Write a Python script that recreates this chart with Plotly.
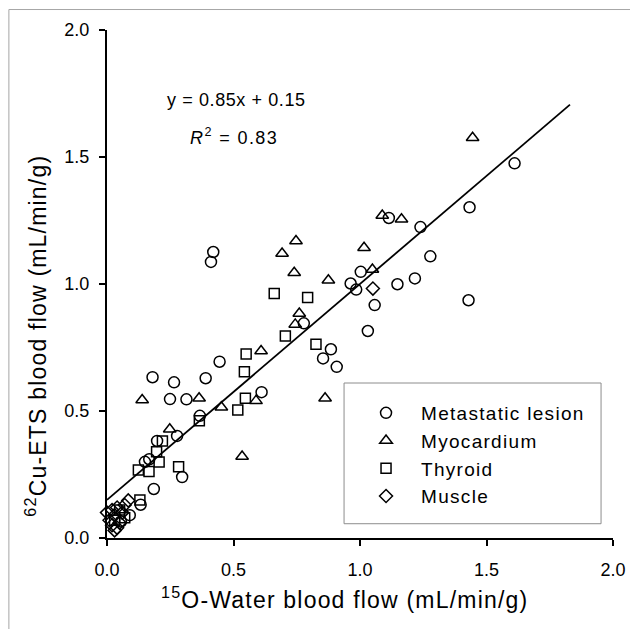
import plotly.graph_objects as go

# ---- data ----
lesion_x = [1.611, 1.433, 1.239, 1.278, 1.114, 1.003, 1.148, 1.217, 1.058, 1.429, 1.031, 0.963, 0.985,
            0.778, 0.885, 0.854, 0.908, 0.611, 0.420, 0.411, 0.180, 0.265, 0.390, 0.445, 0.249, 0.314,
            0.367, 0.277, 0.198, 0.167, 0.150, 0.297, 0.185, 0.133, 0.090, 0.055]
lesion_y = [1.475, 1.302, 1.224, 1.109, 1.260, 1.048, 0.999, 1.022, 0.917, 0.936, 0.815, 1.002, 0.978,
            0.845, 0.743, 0.707, 0.674, 0.574, 1.126, 1.087, 0.633, 0.613, 0.629, 0.694, 0.547, 0.546,
            0.481, 0.402, 0.382, 0.310, 0.300, 0.240, 0.193, 0.131, 0.090, 0.065]

myo_x = [1.445, 1.088, 1.164, 1.016, 1.049, 0.747, 0.692, 0.740, 0.875, 0.760, 0.744, 0.609, 0.862,
         0.139, 0.364, 0.589, 0.452, 0.248, 0.534]
myo_y = [1.576, 1.270, 1.255, 1.143, 1.057, 1.169, 1.120, 1.044, 1.015, 0.884, 0.841, 0.736, 0.550,
         0.543, 0.550, 0.540, 0.515, 0.428, 0.321]

thy_x = [0.661, 0.793, 0.705, 0.826, 0.550, 0.543, 0.547, 0.517, 0.365, 0.219, 0.196, 0.206, 0.283,
         0.124, 0.166, 0.130, 0.050, 0.070, 0.030]
thy_y = [0.963, 0.947, 0.795, 0.763, 0.724, 0.655, 0.550, 0.504, 0.462, 0.382, 0.340, 0.299, 0.281,
         0.268, 0.262, 0.150, 0.110, 0.080, 0.070]

mus_x = [1.051, 0.084, 0.000, 0.010, 0.020, 0.030, 0.030, 0.040, 0.050, 0.060, 0.070, 0.020, 0.040]
mus_y = [0.982, 0.148, 0.100, 0.070, 0.050, 0.030, 0.090, 0.120, 0.060, 0.100, 0.130, 0.110, 0.040]

fit_x = [0.0, 1.83]
fit_y = [0.15, 1.706]

x_ticks = [0.0, 0.5, 1.0, 1.5, 2.0]
y_ticks = [0.0, 0.5, 1.0, 1.5, 2.0]
tick_text = ["0.0", "0.5", "1.0", "1.5", "2.0"]

series_names = ["Metastatic lesion", "Myocardium", "Thyroid", "Muscle"]
x_title = "<sup>15</sup>O-Water blood flow (mL/min/g)"
y_title = "<sup>62</sup>Cu-ETS blood flow (mL/min/g)"
eq_text = "y = 0.85x + 0.15"
r2_text = "<i>R</i><sup>2</sup> = 0.83"

FONT = "Liberation Sans, Arial, sans-serif"


def spaced(txt, px):
    return '<span style="letter-spacing:%.1fpx">%s</span>' % (px, txt)


fig = go.Figure()

fig.add_trace(go.Scatter(x=fit_x, y=fit_y, mode="lines", line=dict(color="black", width=1.8),
                         showlegend=False, hoverinfo="skip"))

specs = [
    (lesion_x, lesion_y, "circle-open", 11),
    (myo_x, myo_y, "triangle-up-open", 11),
    (thy_x, thy_y, "square-open", 10),
    (mus_x, mus_y, "diamond-open", 10),
]
for name, (xs, ys, sym, sz) in zip(series_names, specs):
    fig.add_trace(go.Scatter(
        x=xs, y=ys, mode="markers", name=spaced(name, 1.3), cliponaxis=False,
        marker=dict(symbol=sym, size=sz, color="black", line=dict(color="black", width=1.5)),
    ))

fig.add_annotation(x=0.513, y=1.725, xref="x", yref="y", text=spaced(eq_text, 0.6),
                   showarrow=False, font=dict(family=FONT, size=18, color="black"))
fig.add_annotation(x=0.50, y=1.58, xref="x", yref="y", text=spaced(r2_text, 1.4),
                   showarrow=False, font=dict(family=FONT, size=18, color="black"))

# axis titles
fig.add_annotation(x=0.4685, y=-0.1179, xref="paper", yref="paper", xanchor="center", yanchor="middle",
                   text=spaced(x_title, 1.2), showarrow=False,
                   font=dict(family=FONT, size=23, color="black"))
fig.add_annotation(x=-0.1398, y=0.3988, xref="paper", yref="paper", xanchor="center", yanchor="middle",
                   text=spaced(y_title, 1.2), textangle=-90, showarrow=False,
                   font=dict(family=FONT, size=23, color="black"))

# outer frame and legend box
fig.add_shape(type="rect", xref="paper", yref="paper", x0=-0.1939, x1=1.2, y0=-0.3, y1=1.0403,
              line=dict(color="#a6a6a6", width=1))
fig.add_shape(type="rect", xref="paper", yref="paper", x0=0.4685, x1=0.9764, y0=0.0281, y1=0.3051,
              line=dict(color="#8c8c8c", width=1))

axis_common = dict(
    range=[0, 2], showgrid=False, zeroline=False, showline=True, linecolor="black", linewidth=2,
    ticks="outside", ticklen=6, tickwidth=2, tickcolor="black",
    tickfont=dict(family=FONT, size=18, color="black"),
)
fig.update_xaxes(**axis_common, tickvals=x_ticks, ticktext=tick_text, ticklabelstandoff=8)
fig.update_yaxes(**axis_common, tickvals=y_ticks, ticktext=tick_text, ticklabelstandoff=6)

fig.update_layout(
    width=630, height=621,
    margin=dict(l=99, r=23, t=21, b=91),
    plot_bgcolor="white", paper_bgcolor="white",
    font=dict(family=FONT, color="black"),
    legend=dict(x=0.4685 + 7 / 508, y=0.3051 - 11 / 509, xanchor="left", yanchor="top",
                bgcolor="rgba(0,0,0,0)", borderwidth=0, itemwidth=60,
                font=dict(family=FONT, size=19, color="black")),
)

fig.write_html("out.html")
